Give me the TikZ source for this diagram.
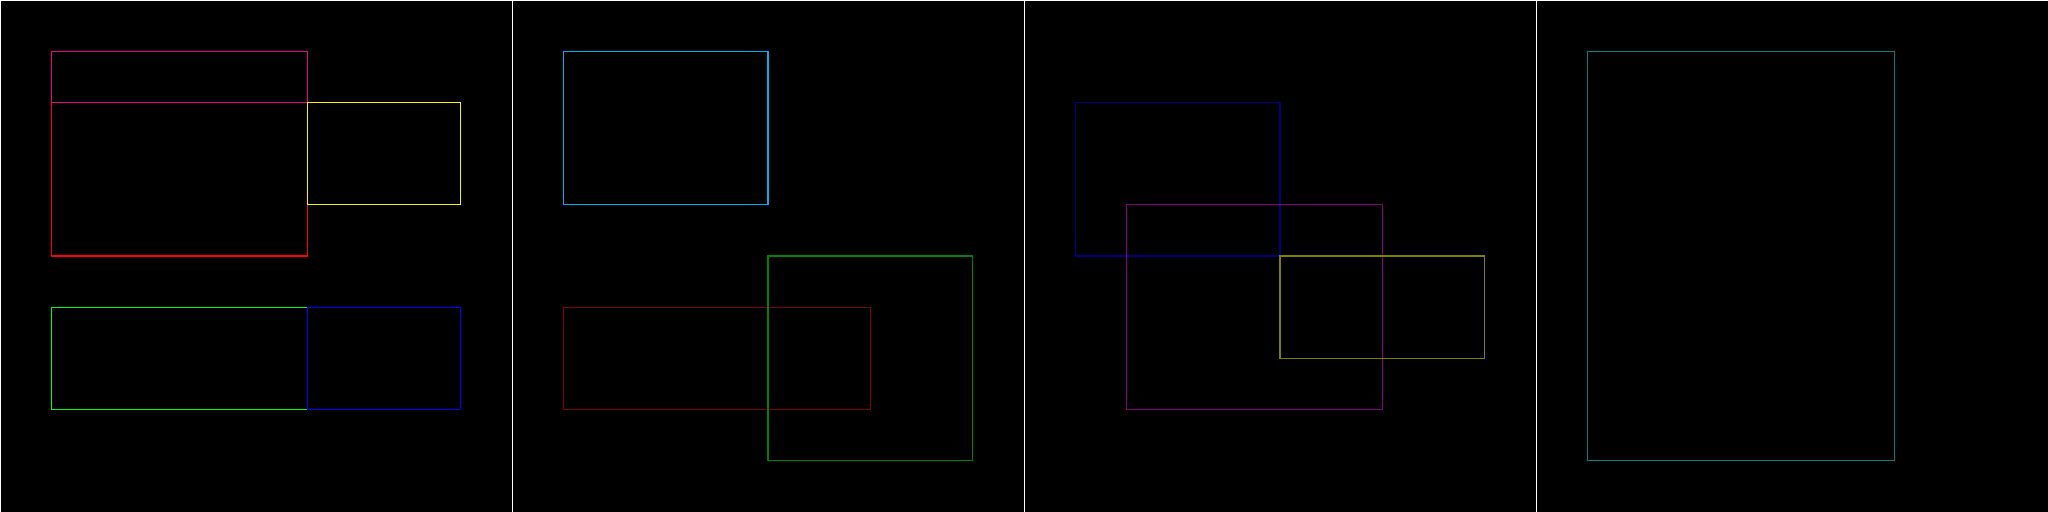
\documentclass[tikz,border=0pt]{standalone}
\begin{document}
\begin{tikzpicture}[x=0.512cm,y=-0.512cm,
  box/.style={line width=0.3pt},
  sep/.style={draw=white,line width=0.01cm}]
\fill[black] (0,0) rectangle (40,10);
\useasboundingbox (0,0) rectangle (40,10);
% panel separators (left and top edges of each panel)
\draw[sep] (0,0.01) -- (40,0.01);
\foreach \i in {0,1,2,3} \draw[sep] (10*\i+0.01,0) -- (10*\i+0.01,10);
% panel 1
\draw[box,red] (1,2) rectangle (6,5);
\draw[box,magenta] (1,1) rectangle (6,2);
\draw[box,yellow] (6,2) rectangle (9,4);
\draw[box,green] (1,6) rectangle (6,8);
\draw[box,blue] (6,6) rectangle (9,8);
% panel 2
\begin{scope}[xshift=5.12cm]
\draw[box,cyan] (1,1) rectangle (5,4);
\draw[box,color={rgb,255:red,128;green,0;blue,0}] (1,6) rectangle (7,8);
\draw[box,color={rgb,255:red,0;green,128;blue,0}] (5,5) rectangle (9,9);
\end{scope}
% panel 3
\begin{scope}[xshift=10.24cm]
\draw[box,color={rgb,255:red,0;green,0;blue,128}] (1,2) rectangle (5,5);
\draw[box,color={rgb,255:red,128;green,0;blue,128}] (2,4) rectangle (7,8);
\draw[box,color={rgb,255:red,128;green,128;blue,0}] (5,5) rectangle (9,7);
\end{scope}
% panel 4
\begin{scope}[xshift=15.36cm]
\draw[box,color={rgb,255:red,0;green,128;blue,128}] (1,1) rectangle (7,9);
\end{scope}
\end{tikzpicture}
\end{document}
